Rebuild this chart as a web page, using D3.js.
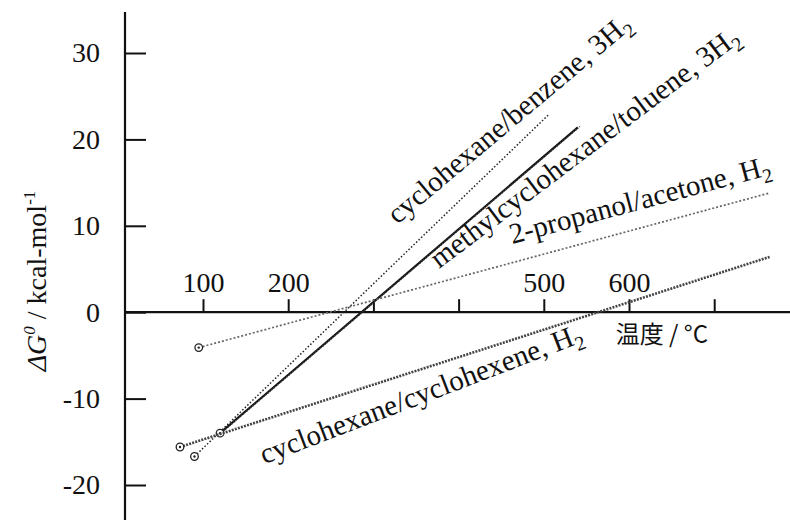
<!DOCTYPE html>
<html>
  <head>
    <meta charset="utf-8" />
    <script src="https://d3js.org/d3.v7.min.js"></script>
    <style>
      body { margin: 0; background: #fff; }
      svg text { font-family: "Liberation Serif", "Times New Roman", serif; fill: #111; }
      .tick line { stroke: #111; stroke-width: 2; }
      .lbl { font-size: 29px; }
    </style>
  </head>
  <body>
    <div id="chart"></div>
    <script>
var width = 790, height = 520;

// reaction pairs, start/end temperature (°C) and ΔG0 (kcal/mol)
var names = ["cyclohexane/benzene", "methylcyclohexane/toluene", "2-propanol/acetone", "cyclohexane/cyclohexene"];
var hydrogen = ["3H", "3H", "H", "H"];
var temps = [[90, 505], [120, 540], [95, 765], [73, 765]];
var dG = [[-16.7, 22.8], [-14.0, 21.4], [-4.1, 13.8], [-15.6, 6.4]];

var xTicks = [100, 200, 300, 400, 500, 600, 700];
var xLabels = [100, 200, 500, 600];
var yTicks = [-20, -10, 0, 10, 20, 30];

// where each label starts (data units) and its slope
var labelAt = [[328, 10.1], [377, 5.0], [463, 7.9], [172, -17.6]];
var labelAngle = [-40, -37, -15, -21];

var x = d3.scaleLinear().domain([100, 600]).range([203, 629]);
var y = d3.scaleLinear().domain([-20, 30]).range([485, 53]);

var svg = d3.select("#chart").append("svg")
  .attr("width", width)
  .attr("height", height);

// axes
var yAxis = svg.append("g")
  .attr("transform", "translate(125,0)")
  .call(d3.axisLeft(y).tickValues(yTicks).tickSize(-21).tickPadding(25)
    .tickFormat(function(d) { return String(d); }));
yAxis.select(".domain").remove();

var xAxis = svg.append("g")
  .attr("transform", "translate(0," + y(0) + ")")
  .call(d3.axisTop(x).tickValues(xTicks).tickSize(13).tickPadding(7)
    .tickFormat(function(d) { return xLabels.indexOf(d) >= 0 ? d : ""; }));
xAxis.select(".domain").remove();

svg.selectAll("g").attr("font-family", null);
svg.selectAll(".tick text")
  .style("font-family", "'Liberation Serif', 'Times New Roman', serif")
  .style("font-size", "28px")
  .attr("fill", "#111");

svg.append("line")
  .attr("x1", 125).attr("x2", 125).attr("y1", 12).attr("y2", height)
  .attr("stroke", "#111").attr("stroke-width", 2.2);
svg.append("line")
  .attr("x1", 125).attr("x2", width).attr("y1", y(0)).attr("y2", y(0))
  .attr("stroke", "#111").attr("stroke-width", 2.2);

// series
var styles = [
  { stroke: "#222", width: 1.5, dash: "1.5,2" },
  { stroke: "#111", width: 2.2, dash: null },
  { stroke: "#666", width: 1.7, dash: "2,2" },
  { stroke: "#444", width: 2.6, dash: "2,1.2" }
];

var line = d3.line().x(function(d) { return x(d[0]); }).y(function(d) { return y(d[1]); });

names.forEach(function(n, i) {
  var pts = [[temps[i][0], dG[i][0]], [temps[i][1], dG[i][1]]];
  svg.append("path")
    .datum(pts)
    .attr("d", line)
    .attr("fill", "none")
    .attr("stroke", styles[i].stroke)
    .attr("stroke-width", styles[i].width)
    .attr("stroke-dasharray", styles[i].dash);
  if (i === 1) {
    // the toluene line carries a hatched shadow in the scan
    svg.append("path")
      .datum(pts)
      .attr("d", line)
      .attr("transform", "translate(2,-1)")
      .attr("fill", "none")
      .attr("stroke", "#444")
      .attr("stroke-width", 1.6)
      .attr("stroke-dasharray", "1,1.5");
  }
  // start marker
  svg.append("circle")
    .attr("cx", x(temps[i][0])).attr("cy", y(dG[i][0])).attr("r", 3.8)
    .attr("fill", "#fff").attr("stroke", "#222").attr("stroke-width", 1.3);
  svg.append("circle")
    .attr("cx", x(temps[i][0])).attr("cy", y(dG[i][0])).attr("r", 1.2)
    .attr("fill", "#222");
});

// rotated series labels
names.forEach(function(n, i) {
  var t = svg.append("text")
    .attr("class", "lbl")
    .attr("transform", "translate(" + x(labelAt[i][0]) + "," + y(labelAt[i][1]) + ") rotate(" + labelAngle[i] + ")");
  t.append("tspan").text(n + ", " + hydrogen[i]);
  t.append("tspan").attr("dy", 7).attr("font-size", 20).text("2");
});

// axis titles
var yt = svg.append("text")
  .attr("transform", "translate(46,281) rotate(-90)")
  .attr("text-anchor", "middle")
  .style("font-family", "'Liberation Serif', 'Times New Roman', serif")
  .attr("font-size", 28);
yt.append("tspan").attr("font-style", "italic").text("ΔG");
yt.append("tspan").attr("font-style", "italic").attr("font-size", 17).attr("dy", -11).text("0");
yt.append("tspan").attr("dy", 11).text(" / kcal-mol");
yt.append("tspan").attr("font-size", 17).attr("dy", -11).text("-1");

svg.append("text")
  .attr("x", 708).attr("y", 343)
  .attr("text-anchor", "end")
  .style("font-family", "'Noto Sans CJK JP', 'Noto Sans', sans-serif")
  .attr("font-size", 24)
  .text("温度 / °C");
    </script>
  </body>
</html>
